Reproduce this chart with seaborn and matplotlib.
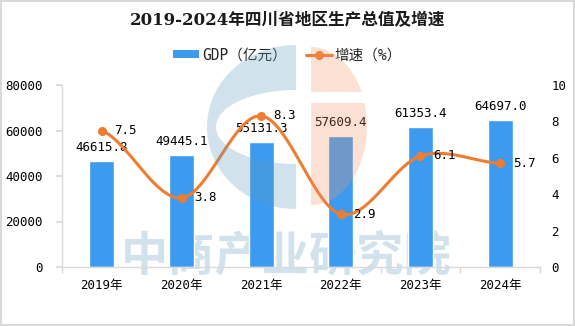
import numpy as np
import pandas as pd
import matplotlib
matplotlib.use("Agg")
import matplotlib.pyplot as plt
import seaborn as sns
from matplotlib.patches import Polygon
from matplotlib.lines import Line2D
from matplotlib.patches import Patch

# ---- data ----
years = ["2019年", "2020年", "2021年", "2022年", "2023年", "2024年"]
gdp = [46615.8, 49445.1, 55131.3, 57609.4, 61353.4, 64697.0]
growth = [7.5, 3.8, 8.3, 2.9, 6.1, 5.7]
title = "2019-2024年四川省地区生产总值及增速"
legend_gdp = "GDP（亿元）"
legend_growth = "增速（%）"
watermark = "中商产业研究院"

sns.set_theme(style="white")
plt.rcParams["font.family"] = ["DejaVu Sans Mono", "Noto Sans CJK SC"]
plt.rcParams["axes.unicode_minus"] = False

BAR = "#3d9bef"
LINE = "#ed7d31"
SPINE = "#d9d9d9"
W, H = 575, 326

fig = plt.figure(figsize=(W / 100, H / 100), dpi=100)
fig.patch.set_facecolor("white")
fig.patch.set_edgecolor(SPINE)
fig.patch.set_linewidth(1.5)

blue_wm = (0.36, 0.60, 0.75)
orange_wm = (0.94, 0.58, 0.40)
a = 0.28

# watermark text behind the plot
fig.text(286 / W, 1 - 256 / H, watermark, ha="center", va="center", fontsize=34,
         fontweight="bold", family=["Noto Sans CJK SC"], color=blue_wm,
         alpha=a, zorder=-5)

ax = fig.add_axes([62 / W, 1 - 267 / H, (540 - 62) / W, (267 - 85) / H])
ax.patch.set_alpha(0)
df = pd.DataFrame({"year": years, "gdp": gdp, "growth": growth})
sns.barplot(data=df, x="year", y="gdp", color=BAR, width=0.31, saturation=1,
            ax=ax, zorder=2)
ax.set_xlim(-0.5, len(years) - 0.5)
ax.set_ylim(0, 80000)
ax.set_yticks(np.arange(0, 80001, 20000))
ax.set_xlabel("")
ax.set_ylabel("")
for s in ["top", "right"]:
    ax.spines[s].set_visible(False)
for s in ["left", "bottom"]:
    ax.spines[s].set_color(SPINE)
    ax.spines[s].set_linewidth(1.0)
ax.tick_params(axis="y", which="major", length=4, color=SPINE, pad=10,
               labelsize=9, labelcolor="black", left=True)
ax.tick_params(axis="x", which="major", length=0, pad=9, labelsize=9,
               labelcolor="black")
ax.set_xticks(np.arange(-0.5, len(years)), minor=True)
ax.tick_params(axis="x", which="minor", length=4, color=SPINE, bottom=True,
               direction="out")
ax.grid(False)

for i, v in enumerate(gdp):
    ax.annotate(f"{v:.1f}", (i, v), xytext=(0, 5), textcoords="offset points",
                ha="center", va="bottom", fontsize=9, color="black", zorder=5)

# ---- growth line (smoothed, Catmull-Rom) ----
ax2 = ax.twinx()
ax2.patch.set_alpha(0)
ax2.set_ylim(0, 10)
ax2.set_yticks(np.arange(0, 11, 2))
for s in ["top", "right", "left", "bottom"]:
    ax2.spines[s].set_visible(False)
ax2.tick_params(axis="y", length=0, pad=8, labelsize=9, labelcolor="black")
ax2.grid(False)

xs = np.arange(len(growth), dtype=float)
ys = np.array(growth, dtype=float)
px = np.concatenate([[2 * xs[0] - xs[1]], xs, [2 * xs[-1] - xs[-2]]])
py = np.concatenate([[ys[0]], ys, [ys[-1]]])
cx, cy = [], []
t = np.linspace(0, 1, 40)
for k in range(1, len(px) - 2):
    p0, p1, p2, p3 = [np.array([px[j], py[j]]) for j in (k - 1, k, k + 1, k + 2)]
    b1 = p1 + (p2 - p0) / 6
    b2 = p2 - (p3 - p1) / 6
    seg = ((1 - t) ** 3)[:, None] * p1 + (3 * (1 - t) ** 2 * t)[:, None] * b1 \
        + (3 * (1 - t) * t ** 2)[:, None] * b2 + (t ** 3)[:, None] * p2
    cx.extend(seg[:, 0])
    cy.extend(seg[:, 1])
ax2.plot(cx, cy, color=LINE, lw=2.2, solid_capstyle="round", zorder=3)
ax2.plot(xs, ys, "o", color=LINE, ms=5.5, zorder=4)
for i, v in enumerate(growth):
    ax2.annotate(f"{v:.1f}", (i, v), xytext=(9, 0), textcoords="offset points",
                 ha="left", va="center", fontsize=9, color="black")

# ---- title & legend ----
fig.text(0.5, 1 - 21 / H, title, ha="center", va="center", fontsize=12,
         fontweight="bold", family=["DejaVu Serif", "Noto Sans CJK SC"],
         color="#1a1a1a")
handles = [Patch(facecolor=BAR, edgecolor="none"),
           Line2D([0], [0], color=LINE, lw=2.2, marker="o", ms=5.5)]
fig.legend(handles, [legend_gdp, legend_growth], loc="center",
           bbox_to_anchor=(0.5, 1 - 55 / H), ncol=2, frameon=False,
           fontsize=10.5, handlelength=1.8, handleheight=0.5, columnspacing=1.3,
           handletextpad=0.2)

# ---- logo overlay (semi-transparent, on top) ----
ov = fig.add_axes([0, 0, 1, 1], zorder=10)
ov.set_xlim(0, W)
ov.set_ylim(H, 0)
ov.axis("off")
ov.patch.set_alpha(0)
cxl, cyl = 296, 127
th = np.linspace(np.pi / 2, 3 * np.pi / 2, 80)
outer = np.column_stack([cxl + 89 * np.cos(th), cyl - 82 * np.sin(th)])
th2 = np.linspace(3 * np.pi / 2, np.pi / 2, 80)
inner = np.column_stack([cxl + 80 * np.cos(th2), cyl - 37 * np.sin(th2)])
ov.add_patch(Polygon(np.vstack([outer, inner]), closed=True, facecolor=blue_wm,
                     alpha=a, edgecolor="none"))
cxr, cyr = 311, 126
th3 = np.linspace(np.pi / 2, -np.pi / 2, 100)
ell = np.column_stack([cxr + 56 * np.cos(th3), cyr - 79 * np.sin(th3)])
top = ell[ell[:, 1] <= 92]
bot = ell[ell[:, 1] >= 103]
topp = np.vstack([[cxr, 47], top, [cxr + 56 * np.sqrt(max(0, 1 - ((92 - cyr) / 79) ** 2)), 92], [cxr, 92]])
botp = np.vstack([[cxr, 103], [cxr + 56 * np.sqrt(max(0, 1 - ((103 - cyr) / 79) ** 2)), 103], bot, [cxr, 205]])
for poly in (topp, botp):
    ov.add_patch(Polygon(poly, closed=True, facecolor=orange_wm, alpha=a,
                         edgecolor="none"))

fig.savefig("out.png", dpi=100, facecolor="white")
